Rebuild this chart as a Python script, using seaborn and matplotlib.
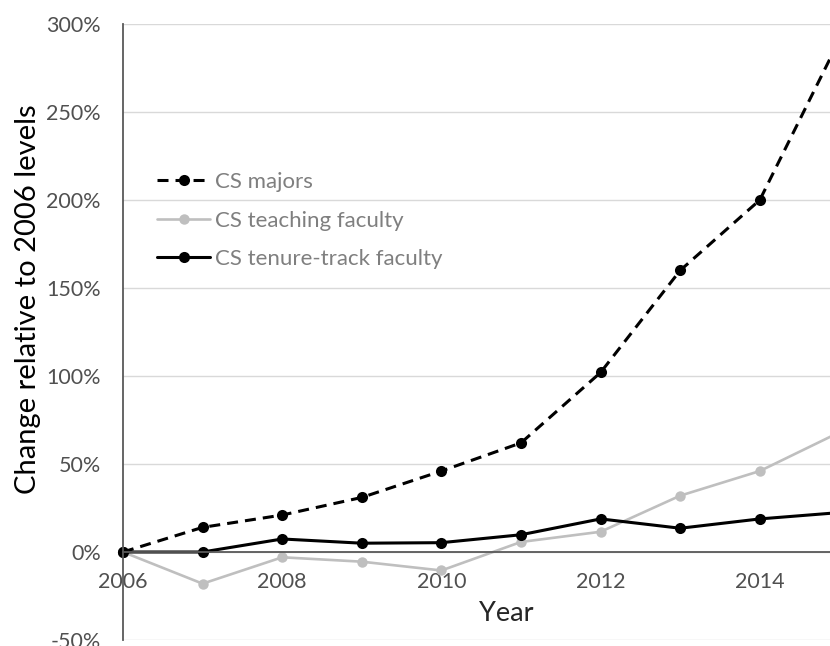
import matplotlib
matplotlib.use("Agg")
import matplotlib.pyplot as plt
import seaborn as sns
from matplotlib.ticker import MultipleLocator, FuncFormatter

# Change relative to 2006 levels (%)
years = [2006, 2007, 2008, 2009, 2010, 2011, 2012, 2013, 2014, 2015]
cs_majors = [0, 14, 21, 31, 46, 62, 102, 160, 200, 291]
cs_teaching = [0, -18, -3, -5.5, -10.5, 5.7, 11.5, 32, 46, 68]
cs_tenure = [0, 0, 7.4, 5, 5.3, 9.8, 18.8, 13.5, 18.8, 22.4]

y_ticks = [-50, 0, 50, 100, 150, 200, 250, 300]

sns.set_style("white")
plt.rcParams['font.family'] = ['Lato', 'DejaVu Sans']

W, H = 830, 646
fig = plt.figure(figsize=(W / 100, H / 100), dpi=100)
# plot area: 2006 at x=123px, 300% at y=24px, -50% at y=640px
ax = fig.add_axes([123 / W, 6 / H, (W - 123) / W, 616 / H])

sns.lineplot(x=years, y=cs_majors, ax=ax, color='black', linewidth=2.2,
             linestyle='--', marker='o', markersize=8, markeredgewidth=0,
             label='CS majors', clip_on=False)
sns.lineplot(x=years, y=cs_teaching, ax=ax, color='#bfbfbf', linewidth=1.9,
             marker='o', markersize=7.5, markeredgewidth=0,
             label='CS teaching faculty', clip_on=False)
sns.lineplot(x=years, y=cs_tenure, ax=ax, color='black', linewidth=2.2,
             marker='o', markersize=8, markeredgewidth=0,
             label='CS tenure-track faculty', clip_on=False)
ax.lines[0].set_dashes([3.6, 2.3])

ax.set_xlim(2006, 2006 + (W - 123) / 79.6)
ax.set_ylim(-50, 300)

# axes styling (Excel look)
for s in ['top', 'right']:
    ax.spines[s].set_visible(False)
ax.spines['left'].set_color('#595959')
ax.spines['left'].set_linewidth(1.3)
ax.spines['bottom'].set_position(('data', 0))
ax.spines['bottom'].set_color('#595959')
ax.spines['bottom'].set_linewidth(1.3)
ax.spines['left'].set_zorder(3)

ax.set_yticks(y_ticks)
ax.yaxis.set_major_formatter(FuncFormatter(lambda v, p: f"{v:.0f}%"))
ax.tick_params(axis='y', length=0, pad=16, labelsize=15.5, labelcolor='#505050')
ax.grid(axis='y', color='#d9d9d9', linewidth=1)
ax.set_axisbelow(True)

ax.xaxis.set_major_locator(MultipleLocator(1))
ax.xaxis.set_major_formatter(
    FuncFormatter(lambda v, p: f"{int(v)}" if int(round(v)) % 2 == 0 else ""))
ax.tick_params(axis='x', direction='inout', length=9, width=1.2,
               color='#595959', pad=10, labelsize=15.5, labelcolor='#505050')

ax.set_ylabel('Change relative to 2006 levels', fontsize=21, color='black')
ax.yaxis.set_label_coords(-0.116, 0.5536)
ax.set_xlabel('Year', fontsize=19.5, color='#262626')
ax.xaxis.set_label_coords(0.542, 0.064)

ax.legend(loc='upper left', bbox_to_anchor=(0.048, 0.760), frameon=False,
          fontsize=16, labelcolor='#7f7f7f', borderpad=0, borderaxespad=0,
          handlelength=2.4, handletextpad=0.2, labelspacing=0.84)

fig.savefig('out.png', dpi=100)
